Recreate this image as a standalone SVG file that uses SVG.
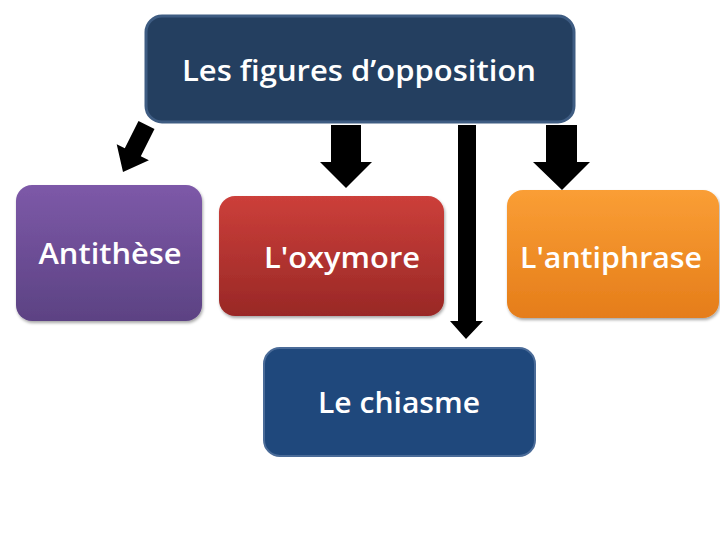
<svg xmlns="http://www.w3.org/2000/svg" width="720" height="540" viewBox="0 0 720 540">
<defs>
<linearGradient id="gPurple" x1="0" y1="0" x2="0" y2="1"><stop offset="0" stop-color="#7D59A8"/><stop offset="1" stop-color="#5C4283"/></linearGradient>
<linearGradient id="gRed" x1="0" y1="0" x2="0" y2="1"><stop offset="0" stop-color="#CC3F3A"/><stop offset="1" stop-color="#992826"/></linearGradient>
<linearGradient id="gOrange" x1="0" y1="0" x2="0" y2="1"><stop offset="0" stop-color="#FA9E35"/><stop offset="1" stop-color="#E57D1A"/></linearGradient>
<filter id="sh" x="-10%" y="-10%" width="125%" height="130%"><feDropShadow dx="1" dy="2" stdDeviation="1.5" flood-color="#000" flood-opacity="0.35"/></filter>
</defs>
<style>
.t{font-family:"Open Sans","Noto Sans","Liberation Sans",sans-serif;font-weight:600;fill:#fff;font-size:29px;text-anchor:middle}
.arr{fill:#000}
</style>
<rect width="720" height="540" fill="#fff"/>
<g id="connectors">
<polygon class="arr" points="138.5,121 154.5,129 140.8,156.3 148.9,160.3 123,172 116.7,144.3 124.8,148.3"/>
<polygon class="arr" points="331,125 361,125 361,162 372,162 346,188 320,162 331,162"/>
<polygon class="arr" points="458,125 476,125 476,321 483,321 466,339 450,321 458,321"/>
<polygon class="arr" points="546,125 577,125 577,162 590,162 562,190 533,162 546,162"/>
</g>
<g id="top">
<rect x="146" y="16" width="428" height="106" rx="16" fill="#243F60" stroke="#3E5C82" stroke-width="3"/>
<text class="t" x="359" y="81" textLength="354" lengthAdjust="spacingAndGlyphs">Les figures d’opposition</text>
</g>
<g id="antithese">
<rect x="16" y="185" width="186" height="136" rx="16" fill="url(#gPurple)" filter="url(#sh)"/>
<text class="t" x="110" y="264" textLength="143" lengthAdjust="spacingAndGlyphs">Antithèse</text>
</g>
<g id="oxymore">
<rect x="219" y="196" width="225" height="120" rx="16" fill="url(#gRed)" filter="url(#sh)"/>
<text class="t" x="342" y="268" textLength="156" lengthAdjust="spacingAndGlyphs">L'oxymore</text>
</g>
<g id="antiphrase">
<rect x="507" y="190" width="212" height="128" rx="16" fill="url(#gOrange)" filter="url(#sh)"/>
<text class="t" x="611" y="268" textLength="182" lengthAdjust="spacingAndGlyphs">L'antiphrase</text>
</g>
<g id="chiasme">
<rect x="264" y="348" width="271" height="108" rx="16" fill="#1F487C" stroke="#4A6B98" stroke-width="2"/>
<text class="t" x="399" y="413" textLength="162" lengthAdjust="spacingAndGlyphs">Le chiasme</text>
</g>
</svg>
